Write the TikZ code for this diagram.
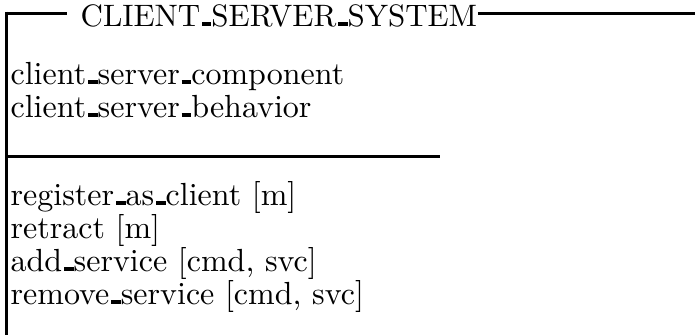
\documentclass[tikz,border=0pt]{standalone}
\newcommand\zus{\leavevmode\kern.06em\vbox{\hrule width .3em height 1.2pt}}
\begin{document}
\begin{tikzpicture}[x=1pt,y=1pt,
  zline/.style={line width=3pt},
  zbase/.style={anchor=base west,inner sep=0pt,font=\fontsize{10}{12}\selectfont},
  ztext/.style={zbase,scale=3.2},
  ztitle/.style={zbase,scale=3.1}]
\useasboundingbox (0,0) rectangle (695,-335);
\node[ztitle] (title) at (80,-26) {CLIENT\zus SERVER\zus SYSTEM};
\draw[zline] (6,-13) -- (67,-13);
\draw[zline] (title.east |- 0,-13) -- (695,-13);
\draw[zline] (6,-11.5) -- (6,-335);
\draw[zline] (6,-156) -- (440,-156);
\node[ztext] (d1) at (10,-84) {client\zus server\zus component};
\node[ztext] (d2) at (10,-117) {client\zus server\zus behavior};
\node[ztext] (p1) at (10,-205) {register\zus as\zus client [m]};
\node[ztext] (p2) at (10,-238) {retract [m]};
\node[ztext] (p3) at (10,-271) {add\zus service [cmd, svc]};
\node[ztext] (p4) at (10,-304) {remove\zus service [cmd, svc]};
\end{tikzpicture}
\end{document}
